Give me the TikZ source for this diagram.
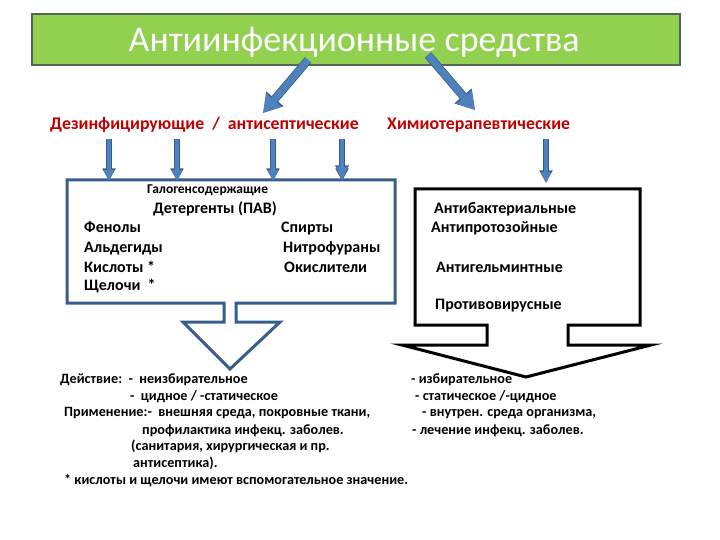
\documentclass[tikz,border=0pt]{standalone}
\usepackage{fontspec}
\setmainfont{Carlito}
\usetikzlibrary{arrows.meta,positioning,calc}
\definecolor{titlegreen}{RGB}{146,208,80}
\definecolor{titleedge}{RGB}{84,104,86}
\definecolor{arrowblue}{RGB}{79,129,189}
\definecolor{arrowedge}{RGB}{56,93,138}
\definecolor{labelred}{RGB}{192,0,0}

\begin{document}
\begin{tikzpicture}[
    x=1pt, y=-1pt,
    title/.style={rectangle, draw=titleedge, line width=1.2pt, fill=titlegreen, minimum width=648pt, minimum height=51pt},
    group/.style={anchor=base west, text=labelred, font=\bfseries\fontsize{17.8}{21}\selectfont, inner sep=0pt},
    item/.style={anchor=base west, inner sep=0pt, font=\bfseries\fontsize{16}{19}\selectfont},
    note/.style={anchor=base west, inner sep=0pt, font=\bfseries\fontsize{14.2}{17}\selectfont},
    bigarrow/.style={arrowblue, line width=7pt, -{Triangle[length=17pt,width=19pt]},
        preaction={draw=arrowedge, line width=8.5pt, -{Triangle[length=18.5pt,width=21.5pt]}}},
    thinarrow/.style={arrowblue, line width=4pt, -{Triangle[length=11pt,width=10pt]},
        preaction={draw=arrowedge, line width=5.5pt, -{Triangle[length=12.5pt,width=12.5pt]}}}
]
\useasboundingbox (0,0) rectangle (720,540);

% Title
\node[title] (main) at (356,39.5) {};
\node[text=white, font=\fontsize{36}{42}\selectfont, inner sep=0pt, anchor=base] (maintext) at (354,52) {Антиинфекционные средства};

% Groups
\node[group] (dez) at (50,130) {Дезинфицирующие\ \ /\ \ антисептические};
\node[group] (chem) at (387,130) {Химиотерапевтические};

\coordinate (ls) at (308,60);
\coordinate (le) at (263,113);
\coordinate (rs) at (428,55);
\coordinate (re) at (475,110);
\draw[bigarrow] (ls) -- (le);
\draw[bigarrow] (rs) -- (re);

% Boxes
\draw[arrowedge, line width=3pt, line join=miter]
    (67,180) -- (395,180) -- (395,303) -- (236,303) -- (236,322) -- (280,322)
    -- (230,369) -- (183,322) -- (224,322) -- (224,303) -- (67,303) -- cycle;
\draw[black, line width=3pt, line join=miter]
    (415,189) -- (640,189) -- (640,325) -- (568,325) -- (568,345) -- (651,345)
    -- (526,377) -- (402,345) -- (487,345) -- (487,325) -- (415,325) -- cycle;

\foreach \xx in {109,177,273}
    \draw[thinarrow] (\xx,139) -- (\xx,181);
\draw[thinarrow, -{Triangle[length=14pt,width=10pt]},
    preaction={draw=arrowedge, line width=5.5pt, -{Triangle[length=15.5pt,width=12.5pt]}}] (342,139) -- (342,181);
\draw[thinarrow] (546,139) -- (546,183);

% Left box
\node[item, font=\bfseries\fontsize{13.5}{16}\selectfont] (halo) at (147,194) {Галогенсодержащие};
\node[item] (deter) at (153,214) {Детергенты (ПАВ)};
\node[item] (phen) at (84,233) {Фенолы};
\node[item] (ald) at (84,252) {Альдегиды};
\node[item] (acid) at (84,272) {Кислоты *};
\node[item] (alk) at (84,290) {Щелочи\ \ *};
\node[item] (alc) at (281,233) {Спирты};
\node[item] (nitro) at (283,252) {Нитрофураны};
\node[item] (oxid) at (284,272) {Окислители};

% Right box
\node[item] (bact) at (434,214) {Антибактериальные};
\node[item] (proto) at (431,233) {Антипротозойные};
\node[item] (helm) at (436,272) {Антигельминтные};
\node[item] (vir) at (435,309) {Противовирусные};

% Notes
\node[note] (act) at (60,383.5) {Действие:\ \ -\ \ неизбирательное};
\node[note] (act2) at (130,400.5) {-\ \ цидное / -статическое};
\node[note] (use) at (64,416.5) {Применение:-\ \ внешняя среда, покровные ткани,};
\node[note] (use2) at (142,434.5) {профилактика инфекц. заболев.};
\node[note] (use3) at (131,450.5) {(санитария, хирургическая и пр.};
\node[note] (use4) at (133,467.5) {антисептика).};
\node[note] (star) at (64,484.5) {* кислоты и щелочи имеют вспомогательное значение.};

\node[note] (ract) at (411,383.5) {- избирательное};
\node[note] (ract2) at (415,400.5) {- статическое /-цидное};
\node[note] (ruse) at (422,416.5) {- внутрен. среда организма,};
\node[note] (ruse2) at (412,434.5) {- лечение инфекц. заболев.};

\end{tikzpicture}
\end{document}
